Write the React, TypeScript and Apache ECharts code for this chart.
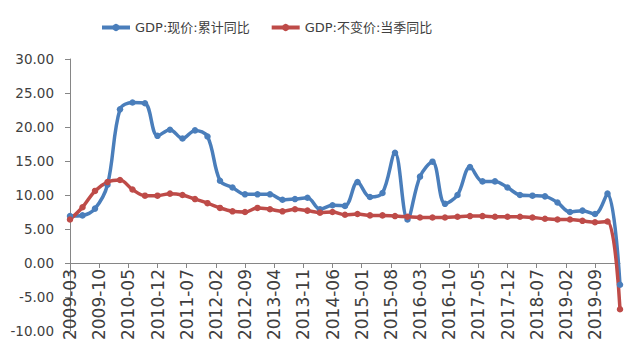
import React, { useEffect, useRef } from "react";
import * as echarts from "echarts";

const quarters = [
  "2009-03", "2009-06", "2009-09", "2009-12",
  "2010-03", "2010-06", "2010-09", "2010-12",
  "2011-03", "2011-06", "2011-09", "2011-12",
  "2012-03", "2012-06", "2012-09", "2012-12",
  "2013-03", "2013-06", "2013-09", "2013-12",
  "2014-03", "2014-06", "2014-09", "2014-12",
  "2015-03", "2015-06", "2015-09", "2015-12",
  "2016-03", "2016-06", "2016-09", "2016-12",
  "2017-03", "2017-06", "2017-09", "2017-12",
  "2018-03", "2018-06", "2018-09", "2018-12",
  "2019-03", "2019-06", "2019-09", "2019-12",
  "2020-03",
];

const nominalYtd = [
  6.9, 7.0, 8.0, 11.5,
  22.6, 23.6, 23.5, 18.7,
  19.6, 18.3, 19.5, 18.6,
  12.1, 11.1, 10.1, 10.1,
  10.1, 9.3, 9.4, 9.6,
  7.9, 8.5, 8.4, 11.9,
  9.7, 10.3, 16.2, 6.4,
  12.7, 14.9, 8.7, 10.0,
  14.1, 12.0, 12.0, 11.1,
  10.0, 9.9, 9.8, 8.9,
  7.5, 7.7, 7.2, 10.2,
  -3.2,
];

const realQuarterly = [
  6.4, 8.2, 10.6, 11.9,
  12.2, 10.8, 9.9, 9.9,
  10.2, 10.0, 9.4, 8.8,
  8.1, 7.6, 7.5, 8.1,
  7.9, 7.6, 7.9, 7.7,
  7.4, 7.5, 7.1, 7.2,
  7.0, 7.0, 6.9, 6.8,
  6.7, 6.7, 6.7, 6.8,
  6.9, 6.9, 6.8, 6.8,
  6.8, 6.7, 6.5, 6.4,
  6.4, 6.2, 6.0, 6.1,
  -6.8,
];

const seriesNames = ["GDP:现价:累计同比", "GDP:不变价:当季同比"];
const yTicks = { min: -10, max: 30, step: 5 };
const startYear = 2009;
const startMonth = 3;
const labelStepMonths = 7;

const monthIndex = (s: string) => {
  const [y, m] = s.split("-").map(Number);
  return (y - startYear) * 12 + (m - startMonth);
};

const monthLabel = (v: number) => {
  const total = startMonth - 1 + v;
  const y = startYear + Math.floor(total / 12);
  const m = (total % 12) + 1;
  return `${y}-${m < 10 ? "0" + m : m}`;
};

const GRID = { left: 70, right: 20, top: 59, bottom: 19 };
const HEIGHT = 350;

export default function App() {
  const ref = useRef<HTMLDivElement>(null);
  useEffect(() => {
    if (!ref.current) return;
    const chart = echarts.init(ref.current, null, { renderer: "svg" });
    const xMax = monthIndex(quarters[quarters.length - 1]);
    const font = "'DejaVu Sans', 'Noto Sans CJK SC', sans-serif";
    // place the category axis at the zero line (as in the original)
    const gridH = HEIGHT - GRID.top - GRID.bottom;
    const zeroOffset = -gridH * ((0 - yTicks.min) / (yTicks.max - yTicks.min));
    chart.setOption({
      animation: false,
      backgroundColor: "#ffffff",
      legend: {
        left: 95,
        top: 16,
        itemWidth: 28,
        itemHeight: 9,
        itemGap: 20,
        lineStyle: { width: 4 },
        textStyle: { fontSize: 13, color: "#404040", fontFamily: font },
        data: seriesNames,
      },
      grid: {
        ...GRID,
        containLabel: false,
        outerBoundsMode: "none",
      },
      xAxis: {
        type: "value",
        min: 0,
        max: xMax,
        interval: labelStepMonths,
        offset: zeroOffset,
        axisLine: { onZero: false, lineStyle: { color: "#868686", width: 1 } },
        axisTick: { show: true, length: 5, lineStyle: { color: "#868686" } },
        splitLine: { show: false },
        axisLabel: {
          rotate: 90,
          margin: 6,
          fontSize: 17,
          fontFamily: font,
          color: "#404040",
          showMaxLabel: false,
          formatter: (v: number) => (v % labelStepMonths === 0 ? monthLabel(v) : ""),
        },
      },
      yAxis: {
        type: "value",
        min: yTicks.min,
        max: yTicks.max,
        interval: yTicks.step,
        axisLine: { show: true, onZero: false, lineStyle: { color: "#868686", width: 1 } },
        axisTick: { show: true, length: 5, lineStyle: { color: "#868686" } },
        splitLine: { show: false },
        axisLabel: {
          margin: 16,
          fontSize: 13.5,
          fontFamily: font,
          color: "#404040",
          formatter: (v: number) => v.toFixed(2),
        },
      },
      series: [
        {
          name: seriesNames[0],
          type: "line",
          smooth: 0.35,
          symbol: "circle",
          symbolSize: 6.5,
          lineStyle: { width: 3.5, color: "#4A7EBB" },
          itemStyle: { color: "#4A7EBB" },
          data: quarters.map((q, i) => [monthIndex(q), nominalYtd[i]]),
        },
        {
          name: seriesNames[1],
          type: "line",
          smooth: 0.35,
          symbol: "circle",
          symbolSize: 6.5,
          lineStyle: { width: 3.5, color: "#BE4B48" },
          itemStyle: { color: "#BE4B48" },
          data: quarters.map((q, i) => [monthIndex(q), realQuarterly[i]]),
        },
      ],
    });
    return () => chart.dispose();
  }, []);
  return (
    <div
      ref={ref}
      style={{ position: "fixed", left: 0, top: 0, width: 640, height: HEIGHT }}
    />
  );
}
